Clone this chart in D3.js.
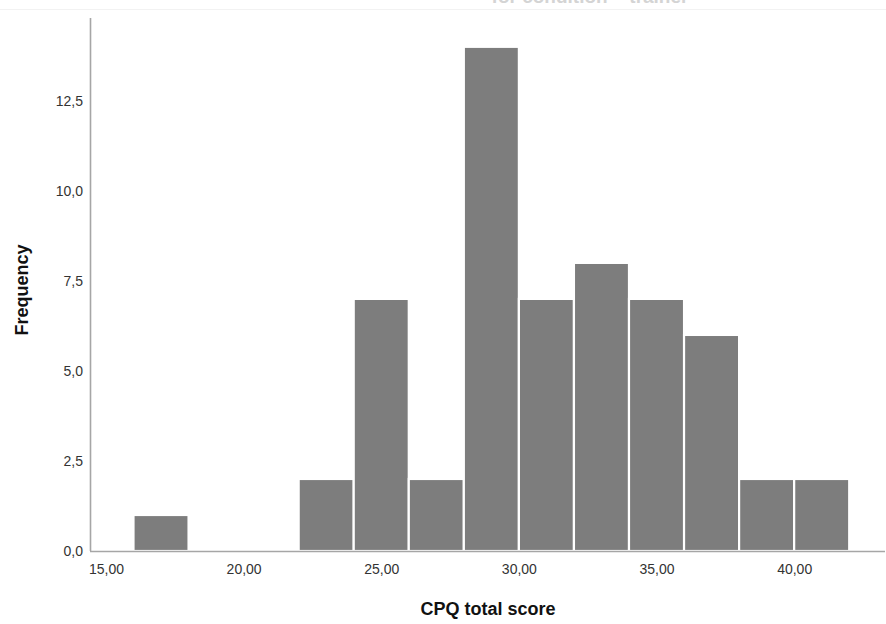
<!DOCTYPE html>
<html>
<head>
<meta charset="utf-8">
<script src="https://cdn.jsdelivr.net/npm/d3@7"></script>
<style>
  body { margin: 0; background: #fff; }
  svg { display: block; font-family: "Liberation Sans", Arial, sans-serif; }
</style>
</head>
<body>
<svg width="886" height="624"></svg>
<script>
// Histogram bins (lower edges, width 2) and their counts.
const binStarts = [16, 18, 20, 22, 24, 26, 28, 30, 32, 34, 36, 38, 40];
const binWidth = 2;
const counts = [1, 0, 0, 2, 7, 2, 14, 7, 8, 7, 6, 2, 2];

const xTicks = [15, 20, 25, 30, 35, 40];
const yTicks = [0, 2.5, 5, 7.5, 10, 12.5];

const xLabel = "CPQ total score";
const yLabel = "Frequency";
const title = "for condition = trainer";

// Comma as decimal separator, like the original output.
const locale = d3.formatLocale({ decimal: ",", thousands: ".", grouping: [3], currency: ["", ""] });
const fmtX = locale.format(".2f");
const fmtY = locale.format(".1f");

const svg = d3.select("svg");

// Plot area edges.
const plot = { left: 90, right: 885, top: 18, bottom: 551 };

const x = d3.scaleLinear().domain([14.42, 43.3]).range([plot.left, plot.right]);
const y = d3.scaleLinear().domain([0, 14.8]).range([plot.bottom, plot.top]);

// Faded, clipped title strip at the top (only its lower edge shows).
svg.append("text")
    .attr("x", 590)
    .attr("y", 3)
    .attr("text-anchor", "middle")
    .attr("font-size", 19)
    .attr("font-weight", "bold")
    .attr("fill", "#d4d4d4")
    .text(title);

svg.append("line")
    .attr("x1", 0).attr("x2", 886)
    .attr("y1", 9.5).attr("y2", 9.5)
    .attr("stroke", "#f2f2f2");

// Bars.
svg.append("g")
    .selectAll("rect")
    .data(binStarts.map((s, i) => ({ x0: s, x1: s + binWidth, n: counts[i] })).filter(d => d.n > 0))
    .join("rect")
    .attr("x", d => x(d.x0))
    .attr("y", d => y(d.n))
    .attr("width", d => x(d.x1) - x(d.x0))
    .attr("height", d => y(0) - y(d.n))
    .attr("fill", "#7d7d7d")
    .attr("stroke", "#fff")
    .attr("stroke-width", 2.2);

// Axes.
const xAxis = svg.append("g")
    .attr("transform", `translate(0,${plot.bottom})`)
    .call(d3.axisBottom(x).tickValues(xTicks).tickFormat(fmtX).tickSize(0).tickPadding(13));

const yAxis = svg.append("g")
    .attr("transform", `translate(${plot.left},0)`)
    .call(d3.axisLeft(y).tickValues(yTicks).tickFormat(fmtY).tickSize(0).tickPadding(7));

[xAxis, yAxis].forEach(g => {
    g.select(".domain").attr("stroke", "#a6a6a6").attr("stroke-width", 1.6);
    g.selectAll("text")
        .attr("font-family", "'Liberation Sans', Arial, sans-serif")
        .attr("font-size", 14)
        .attr("fill", "#333");
});
xAxis.select(".domain").attr("d", `M${plot.left},0.5H${plot.right}`);
yAxis.select(".domain").attr("d", `M0.5,${plot.top}V${plot.bottom}`);

// Axis titles.
svg.append("text")
    .attr("x", 488)
    .attr("y", 615)
    .attr("text-anchor", "middle")
    .attr("font-size", 18)
    .attr("font-weight", "bold")
    .attr("fill", "#111")
    .text(xLabel);

svg.append("text")
    .attr("transform", "translate(28,290) rotate(-90)")
    .attr("text-anchor", "middle")
    .attr("font-size", 18)
    .attr("font-weight", "bold")
    .attr("fill", "#111")
    .text(yLabel);
</script>
</body>
</html>
